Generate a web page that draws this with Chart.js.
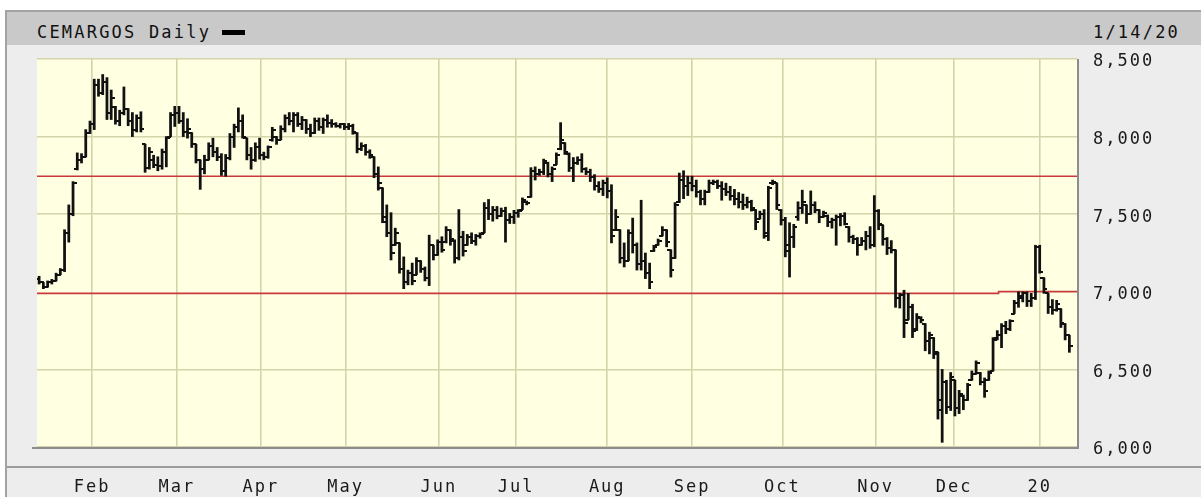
<!DOCTYPE html>
<html>
<head>
<meta charset="utf-8">
<script src="https://cdn.jsdelivr.net/npm/chart.js@4.4.1/dist/chart.umd.min.js"></script>
<style>
  body { margin: 0; width: 1201px; height: 497px; overflow: hidden; position: relative; background: #fff;
         font-family: 'DejaVu Sans Mono', monospace; }
  #frame { position: absolute; left: 5px; top: 10px; width: 1196px; height: 487px; box-sizing: border-box;
           background: #ededed; border-top: 2px solid #a3a3a3; border-left: 2px solid #a3a3a3; }
  #header { position: absolute; left: 7px; top: 12px; width: 1194px; height: 33px; background: #c9c9c9; }
  .htext { position: absolute; top: 13px; line-height: 38px; font-size: 17px; letter-spacing: 2.2px; color: #111; }
  #dash { position: absolute; left: 222px; top: 30px; width: 23px; height: 5px; background: #000; }
  #sep { position: absolute; left: 7px; top: 466px; width: 1194px; height: 2px; background: #9c9c9c; }
  #c { position: absolute; left: 0; top: 0; }
</style>
</head>
<body>
<div id="frame"></div>
<div id="header"></div>
<div class="htext" style="left:37px">CEMARGOS Daily</div>
<div id="dash"></div>
<div class="htext" style="left:1093px">1/14/20</div>
<div id="sep"></div>
<canvas id="c" width="1201" height="497"></canvas>
<script>
// daily OHLC, one entry per trading day (mid Jan 2019 .. 14 Jan 2020)
const opens = [
  7080,7060,7030,7060,7070,7110,7140,7380,7500,7790,7850,7870,8020,
  8080,8330,8280,8350,8150,8190,8100,8150,8180,8100,8040,8120,7950,7800,7850,7820,7810,7900,8000,8140,
  8150,8100,8030,8020,7950,7850,7790,7850,7940,7900,7870,7780,7860,8000,8060,8100,7990,7880,7850,7930,
  7880,7870,7980,8000,7980,8050,8120,8100,8140,8080,8110,8050,8020,8100,8060,8110,8090,8080,8070,8080,
  8060,8070,8020,7920,7940,7900,7870,7760,7670,7450,7380,7300,7315,7150,7060,7120,7110,7200,7150,7090,7300,7240,
  7320,7320,7400,7330,7220,7350,7300,7350,7330,7360,7380,7540,7500,7530,7490,7520,7460,7480,
  7510,7530,7580,7610,7780,7760,7770,7830,7760,7820,7920,7960,7890,7800,7830,7850,7790,7770,7740,7680,7660,7700,
  7650,7400,7400,7220,7200,7380,7300,7180,7200,7120,7260,7300,7360,7400,7270,7220,7580,7720,7680,7700,
  7680,7640,7600,7640,7700,7710,7680,7660,7640,7620,7600,7580,7560,7580,7530,7470,7500,7360,7700,7700,7530,
  7460,7300,7350,7480,7540,7560,7500,7560,7530,7480,7490,7450,7460,7480,7490,7420,7350,7340,7300,7330,7360,7300,
  7520,7430,7340,7280,7270,6960,6980,6820,6900,6760,6830,6795,6680,6700,6610,6300,6420,6260,
  6430,6250,6330,6300,6430,6470,6480,6420,6430,6490,6700,6720,6780,6760,6860,6930,6960,6990,6940,6960,
  7290,7090,6990,6900,6880,6890,6790,6720
];
const highs = [
  7100,7060,7070,7080,7120,7150,7400,7560,7710,7895,7890,8045,8100,
  8370,8370,8400,8380,8300,8195,8170,8320,8180,8155,8140,8160,7950,7930,7880,7870,7920,8000,8155,8195,
  8195,8155,8115,8025,7950,7850,7880,7960,7990,7930,7890,7885,8020,8080,8185,8140,7990,7930,7960,7990,
  7900,7940,8060,8000,8070,8140,8155,8155,8155,8130,8110,8080,8120,8120,8120,8140,8110,8090,8085,8085,
  8085,8080,8025,7960,7950,7915,7870,7805,7670,7560,7510,7410,7315,7225,7140,7185,7220,7200,7160,7365,7300,7335,
  7355,7420,7400,7335,7530,7390,7370,7380,7370,7380,7575,7595,7550,7550,7540,7545,7505,7525,
  7530,7605,7585,7800,7805,7790,7855,7835,7805,7895,8090,7960,7895,7865,7870,7890,7800,7790,7755,7710,7720,7735,
  7690,7530,7400,7315,7400,7475,7315,7590,7250,7185,7300,7340,7420,7400,7270,7575,7765,7780,7745,7745,
  7720,7655,7655,7720,7720,7720,7710,7700,7680,7660,7640,7630,7610,7590,7530,7520,7530,7680,7720,7700,7530,
  7480,7445,7435,7580,7655,7560,7650,7580,7530,7520,7495,7475,7495,7505,7510,7420,7365,7350,7350,7390,7420,7620,
  7530,7430,7350,7330,7270,6990,7010,6990,6920,6860,6840,6795,6740,6705,6610,6500,6430,6480,
  6430,6365,6335,6410,6490,6555,6480,6445,6490,6705,6750,6795,6810,6820,6945,7000,7000,7000,6990,7300,
  7300,7090,6990,6950,6945,6890,6795,6720
];
const lows = [
  7050,7020,7030,7050,7070,7110,7130,7320,7490,7785,7830,7870,8020,
  8045,8260,8270,8110,8110,8080,8070,8140,8070,8000,8030,8030,7770,7790,7800,7780,7790,7805,8000,8065,
  8085,8000,7990,7930,7830,7660,7760,7850,7870,7845,7750,7745,7850,7930,8030,7990,7850,7790,7840,7855,
  7850,7860,7970,7950,7980,8030,8075,8030,8065,8045,8020,8000,8020,8040,8020,8060,8060,8060,8055,8045,
  8045,8015,7895,7910,7880,7860,7735,7655,7445,7355,7205,7300,7120,7020,7045,7045,7110,7125,7070,7040,7205,7235,
  7255,7315,7300,7185,7205,7230,7300,7310,7300,7345,7380,7465,7455,7470,7485,7320,7440,7440,
  7480,7530,7560,7610,7720,7750,7755,7740,7710,7820,7915,7885,7775,7710,7820,7770,7755,7710,7655,7640,7620,7605,
  7315,7400,7185,7160,7200,7250,7140,7140,7085,7020,7260,7300,7360,7290,7095,7215,7575,7600,7620,7650,
  7610,7560,7560,7640,7690,7665,7590,7620,7590,7560,7540,7530,7540,7520,7400,7470,7345,7330,7690,7530,7430,
  7225,7095,7285,7460,7505,7440,7500,7510,7445,7480,7420,7410,7300,7425,7430,7320,7310,7235,7300,7270,7280,7290,
  7400,7300,7240,7250,6900,6895,6705,6820,6705,6750,6800,6620,6600,6570,6180,6030,6215,6235,
  6200,6215,6240,6300,6430,6470,6400,6320,6430,6490,6690,6640,6730,6750,6860,6900,6935,6905,6905,6950,
  7120,6990,6860,6855,6875,6770,6690,6610
];
const closes = [
  7060,7030,7060,7070,7110,7140,7380,7500,7700,7850,7870,8020,8080,
  8330,8280,8350,8150,8250,8100,8150,8180,8100,8040,8120,8050,7800,7900,7820,7810,7900,7990,8140,8150,
  8100,8030,8050,7950,7850,7790,7850,7940,7900,7870,7780,7860,8000,8060,8100,8000,7880,7850,7930,7880,
  7870,7930,8040,7980,8050,8120,8100,8140,8080,8110,8050,8020,8100,8060,8110,8090,8080,8070,8080,8060,
  8070,8030,7920,7940,7900,7880,7760,7700,7480,7380,7250,7380,7150,7060,7120,7070,7200,7150,7090,7300,7240,7320,
  7270,7400,7340,7220,7350,7260,7350,7330,7360,7370,7540,7500,7530,7490,7520,7460,7480,7510,
  7520,7590,7575,7780,7760,7770,7840,7760,7790,7880,7980,7900,7800,7830,7850,7790,7770,7740,7680,7660,7700,7650,
  7360,7480,7220,7200,7380,7300,7180,7200,7120,7060,7290,7330,7400,7320,7140,7560,7720,7680,7700,7680,
  7640,7600,7640,7700,7710,7680,7660,7640,7620,7600,7580,7560,7580,7540,7450,7500,7380,7670,7710,7560,7460,
  7260,7350,7420,7540,7580,7500,7560,7530,7480,7510,7450,7460,7480,7490,7440,7350,7340,7300,7330,7360,7300,7520,
  7440,7340,7280,7270,6960,6980,6800,6900,6750,6840,6820,6680,6720,6600,6240,6420,6260,6450,
  6250,6340,6300,6400,6470,6540,6420,6360,6480,6690,6720,6780,6760,6810,6930,6970,6990,6940,6960,7290,
  7130,7020,6900,6880,6920,6800,6720,6650
];

// month boundaries (in bar index units) and their labels
const monthTicks  = [12.5, 32.5, 52.3, 72.3, 94.3, 112.5, 134, 154, 175.3, 197.3, 215.8, 236];
const monthLabels = ['Feb','Mar','Apr','May','Jun','Jul','Aug','Sep','Oct','Nov','Dec','20'];
const priceTicks  = [6000, 6500, 7000, 7500, 8000, 8500];

// red reference levels
const upperLevel = 7745;
const lowerLevel = [6990, 7001];
const lowerBreak = 226.3;

const xMin = -0.5, xMax = 244.8;

function tickImage(side) {
    const c = document.createElement('canvas');
    c.width = 7; c.height = 2;
    const g = c.getContext('2d');
    g.fillStyle = '#111';
    g.fillRect(side === 'open' ? 0 : 3, 0, 4, 2);
    return c;
}

const plotFrame = {
    id: 'plotFrame',
    beforeDraw(chart) {
        const { ctx, chartArea: a } = chart;
        ctx.letterSpacing = '2px';
        ctx.save();
        ctx.fillStyle = '#ffffe1';
        ctx.fillRect(a.left, a.top, a.right - a.left, a.bottom - a.top);
        ctx.restore();
    },
    afterDraw(chart) {
        const { ctx, chartArea: a } = chart;
        ctx.save();
        ctx.strokeStyle = '#8c8c8c';
        ctx.lineWidth = 2;
        ctx.beginPath();
        ctx.moveTo(a.left - 5, a.bottom + 1);
        ctx.lineTo(a.right + 1, a.bottom + 1);
        ctx.lineTo(a.right + 1, a.top);
        ctx.stroke();
        ctx.restore();
    }
};

const rangeData = highs.map((h, i) => ({ x: i, y: [lows[i], h] }));
const openData  = opens.map((v, i) => ({ x: i, y: v }));
const closeData = closes.map((v, i) => ({ x: i, y: v }));

new Chart(document.getElementById('c'), {
    type: 'bar',
    data: {
        datasets: [
            {
                data: rangeData,
                backgroundColor: '#111',
                barThickness: 2.1,
                borderWidth: 0,
                order: 1
            },
            {
                type: 'scatter',
                data: openData,
                pointStyle: tickImage('open'),
                pointRadius: 3,
                order: 0
            },
            {
                type: 'scatter',
                data: closeData,
                pointStyle: tickImage('close'),
                pointRadius: 3,
                order: 0
            },
            {
                type: 'line',
                data: [{ x: xMin, y: upperLevel }, { x: xMax, y: upperLevel }],
                borderColor: '#c83a3a',
                borderWidth: 1.6,
                pointRadius: 0,
                order: 5
            },
            {
                type: 'line',
                data: [{ x: xMin, y: lowerLevel[0] }, { x: lowerBreak, y: lowerLevel[0] },
                       { x: lowerBreak, y: lowerLevel[1] }, { x: xMax, y: lowerLevel[1] }],
                borderColor: '#c83a3a',
                borderWidth: 1.6,
                pointRadius: 0,
                order: 5
            }
        ]
    },
    options: {
        responsive: false,
        animation: false,
        devicePixelRatio: 1,
        layout: { padding: { left: 37, top: 59, right: 0, bottom: 0 } },
        plugins: { legend: { display: false }, tooltip: { enabled: false } },
        scales: {
            x: {
                type: 'linear',
                min: xMin,
                max: xMax,
                offset: false,
                afterBuildTicks: s => { s.ticks = monthTicks.map(v => ({ value: v })); },
                afterFit: s => { s.height = 50; },
                grid: { color: '#d4d4aa', lineWidth: 1.6, drawTicks: false, offset: false },
                border: { display: false },
                ticks: {
                    autoSkip: false,
                    maxRotation: 0,
                    padding: 30,
                    color: '#1a1a1a',
                    font: { family: "'DejaVu Sans Mono', monospace", size: 17 },
                    callback: (v, i) => monthLabels[i]
                }
            },
            y: {
                position: 'right',
                min: 6000,
                max: 8500,
                afterBuildTicks: s => { s.ticks = priceTicks.map(v => ({ value: v })); },
                afterFit: s => { s.width = 124; },
                grid: {
                    color: c => (c.tick && c.tick.value === 7000) ? 'rgba(0,0,0,0)' : '#d4d4aa',
                    lineWidth: 1.6,
                    drawTicks: false
                },
                border: { display: false },
                ticks: {
                    padding: 16,
                    labelOffset: 3,
                    color: '#1a1a1a',
                    font: { family: "'DejaVu Sans Mono', monospace", size: 17 },
                    callback: v => v.toLocaleString('en-US')
                }
            }
        }
    },
    plugins: [plotFrame]
});
</script>
</body>
</html>
